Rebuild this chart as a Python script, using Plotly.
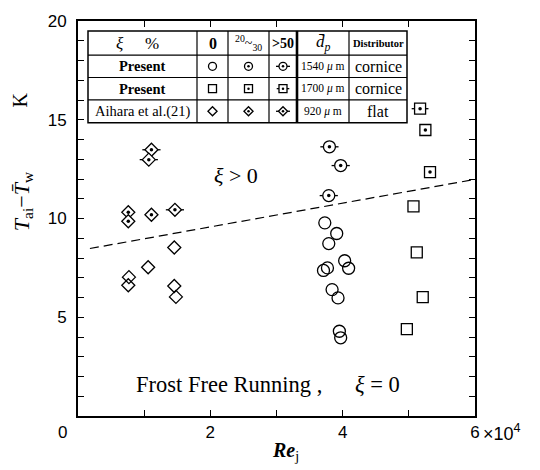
import plotly.graph_objects as go

# ---------------- data ----------------
# Present, d=1540um, cornice
circ0_x = [37300, 39100, 37900, 40300, 40900, 37700, 37100, 38400, 39300, 39500, 39700]
circ0_y = [9.78, 9.24, 8.73, 7.86, 7.48, 7.50, 7.37, 6.40, 5.98, 4.29, 3.96]
circ50_x = [38000, 39700, 37900]
circ50_y = [13.63, 12.68, 11.16]
# Present, d=1700um, cornice
sq0_x = [50700, 51200, 52100, 49700]
sq0_y = [10.61, 8.28, 6.02, 4.40]
sq25_x = [52500, 53200]
sq25_y = [14.48, 12.35]
sq50_x = [51700]
sq50_y = [15.56]
# Aihara et al.(21), d=920um, flat
dia0_x = [7700, 7600, 10600, 14550, 14550, 14800]
dia0_y = [7.03, 6.62, 7.53, 8.53, 6.58, 6.03]
dia25_x = [7600, 7600, 11100]
dia25_y = [10.32, 9.86, 10.19]
dia50_x = [11100, 10700, 14650]
dia50_y = [13.48, 12.98, 10.44]
# boundary line
trend_x = [1800, 60000]
trend_y = [8.48, 11.98]

x_tickvals = [0, 10000, 20000, 30000, 40000, 50000, 60000]
x_ticktext = ["", "", "2", "", "4", "", "6"]
y_tickvals = list(range(0, 21))
y_ticktext = ["" if (v % 5 or v == 0) else str(v) for v in y_tickvals]

# table layout (data coords)
tab_cols = [1511, 17985, 22670, 28866, 33098, 40957, 49723]
tab_rows = [19.50, 18.27, 17.14, 16.01, 14.85]

SERIF = "Liberation Serif"
SANS = "Liberation Sans"
LW = 1.3

fig = go.Figure()


def open_marks(x, y, symbol, size):
    fig.add_trace(go.Scatter(x=x, y=y, mode="markers", showlegend=False, hoverinfo="skip",
                             marker=dict(symbol=symbol, size=size, color="black",
                                         line=dict(color="black", width=LW))))


def dot_marks(x, y, symbol, size, dot=3.5):
    fig.add_trace(go.Scatter(x=x, y=y, mode="markers", showlegend=False, hoverinfo="skip",
                             marker=dict(symbol=symbol, size=size, color="white",
                                         line=dict(color="black", width=LW))))
    fig.add_trace(go.Scatter(x=x, y=y, mode="markers", showlegend=False, hoverinfo="skip",
                             marker=dict(symbol="circle", size=dot, color="black",
                                         line=dict(width=0))))


def whisk(x, y, size):
    fig.add_trace(go.Scatter(x=x, y=y, mode="markers", showlegend=False, hoverinfo="skip",
                             marker=dict(symbol="line-ew", size=size, color="black",
                                         line=dict(color="black", width=LW))))


# dashed boundary
fig.add_trace(go.Scatter(x=trend_x, y=trend_y, mode="lines", showlegend=False, hoverinfo="skip",
                         line=dict(color="black", width=1.2, dash="9px,5px")))

# data markers
open_marks(circ0_x, circ0_y, "circle-open", 12)
whisk(circ50_x, circ50_y, 13)
dot_marks(circ50_x, circ50_y, "circle", 12)
open_marks(sq0_x, sq0_y, "square-open", 11)
dot_marks(sq25_x, sq25_y, "square", 11)
whisk(sq50_x, sq50_y, 12)
dot_marks(sq50_x, sq50_y, "square", 11)
open_marks(dia0_x, dia0_y, "diamond-open", 10)
dot_marks(dia25_x, dia25_y, "diamond", 10)
whisk(dia50_x, dia50_y, 13)
dot_marks(dia50_x, dia50_y, "diamond", 10)

# ---------------- table ----------------
shapes = []
shapes.append(dict(type="rect", xref="x", yref="y", x0=tab_cols[0], x1=tab_cols[-1],
                   y0=tab_rows[-1], y1=tab_rows[0], fillcolor="white",
                   line=dict(color="black", width=1.5), layer="below"))
for r in tab_rows[1:-1]:
    shapes.append(dict(type="line", xref="x", yref="y", x0=tab_cols[0], x1=tab_cols[-1],
                       y0=r, y1=r, line=dict(color="black", width=1.2), layer="below"))
for i, c in enumerate(tab_cols[1:-1]):
    w = 2.6 if i == 3 else 1.2
    shapes.append(dict(type="line", xref="x", yref="y", x0=c, x1=c,
                       y0=tab_rows[-1], y1=tab_rows[0], line=dict(color="black", width=w),
                       layer="below"))

cx = [(tab_cols[i] + tab_cols[i + 1]) / 2 for i in range(len(tab_cols) - 1)]
ry = [(tab_rows[i] + tab_rows[i + 1]) / 2 for i in range(len(tab_rows) - 1)]

# table symbols
open_marks([cx[1]], [ry[1]], "circle-open", 8)
dot_marks([cx[2]], [ry[1]], "circle", 8, 2.5)
whisk([cx[3]], [ry[1]], 10)
dot_marks([cx[3]], [ry[1]], "circle", 8, 2.5)
open_marks([cx[1]], [ry[2]], "square-open", 8)
dot_marks([cx[2]], [ry[2]], "square", 8, 2.5)
whisk([cx[3]], [ry[2]], 9)
dot_marks([cx[3]], [ry[2]], "square", 8, 2.5)
open_marks([cx[1]], [ry[3]], "diamond-open", 7)
dot_marks([cx[2]], [ry[3]], "diamond", 7, 2.5)
whisk([cx[3]], [ry[3]], 10)
dot_marks([cx[3]], [ry[3]], "diamond", 7, 2.5)

ann = []


def txt(x, y, s, size, font=SERIF, xref="x", yref="y", xanchor="center", yanchor="middle", angle=0):
    ann.append(dict(x=x, y=y, xref=xref, yref=yref, text=s, showarrow=False,
                    xanchor=xanchor, yanchor=yanchor, textangle=angle,
                    font=dict(family=font, size=size, color="black")))


c0w = tab_cols[1] - tab_cols[0]
txt(tab_cols[0] + 0.29 * c0w, ry[0], "<i>ξ</i>", 17)
txt(tab_cols[0] + 0.59 * c0w, ry[0], "%", 17)
txt(cx[1], ry[0], "<b>0</b>", 16)
txt(cx[2], ry[0], "<sup>20</sup>~<sub>30</sub>", 14)
txt(cx[3], ry[0], "<b>&gt;50</b>", 14)
txt(cx[4], ry[0], "<i>d\u0304</i><sub><i>p</i></sub>", 17)
txt(cx[5], ry[0], "<b>Distributor</b>", 10.5)
txt(cx[0], ry[1], "<b>Present</b>", 14.5)
txt(cx[0], ry[2], "<b>Present</b>", 14.5)
txt(cx[0], ry[3], "Aihara et al.(21)", 14.5)
txt(cx[4], ry[1], "1540 <i>μ</i> m", 11.5)
txt(cx[4], ry[2], "1700 <i>μ</i> m", 11.5)
txt(cx[4], ry[3], "920 <i>μ</i> m", 11.5)
txt(cx[5], ry[1], "cornice", 16)
txt(cx[5], ry[2], "cornice", 16)
txt(cx[5], ry[3], "flat", 16)

# in-plot labels
txt(23880, 12.17, "<i>ξ</i> &gt; 0", 22)
txt(22800, 1.60, "Frost Free Running ,", 22.5)
txt(45300, 1.60, "<i>ξ</i> = 0", 22.5)

# axis decorations
txt(-0.038, -0.042, "0", 17, font=SANS, xref="paper", yref="paper")
txt(1.014, -0.042, "×10<sup>4</sup>", 18, font=SANS, xref="paper", yref="paper", xanchor="left")
txt(0.522, -0.09, "<b><i>Re</i></b><sub>j</sub>", 20, xref="paper", yref="paper")
txt(-0.145, 0.80, "K", 20, xref="paper", yref="paper", angle=-90)
txt(-0.14, 0.545, "<i>T</i><sub>ai</sub>\u2212<i>T\u0304</i><sub>w</sub>", 22,
    xref="paper", yref="paper", angle=-90)

fig.update_layout(
    width=540, height=470,
    margin=dict(l=78, r=65, t=15, b=54),
    paper_bgcolor="white", plot_bgcolor="white",
    shapes=shapes, annotations=ann, showlegend=False,
    xaxis=dict(range=[0, 60000], tickvals=x_tickvals, ticktext=x_ticktext,
               ticks="inside", ticklen=6, tickwidth=1.2, tickcolor="black",
               showline=True, linecolor="black", linewidth=2, mirror="ticks",
               showgrid=False, zeroline=False,
               tickfont=dict(family=SANS, size=17, color="black")),
    yaxis=dict(range=[0, 20], tickvals=y_tickvals, ticktext=y_ticktext,
               ticks="inside", ticklen=6, tickwidth=1.2, tickcolor="black",
               showline=True, linecolor="black", linewidth=2, mirror="ticks",
               showgrid=False, zeroline=False, ticklabelstandoff=6,
               tickfont=dict(family=SANS, size=17, color="black")),
)

fig.write_html("out.html")
